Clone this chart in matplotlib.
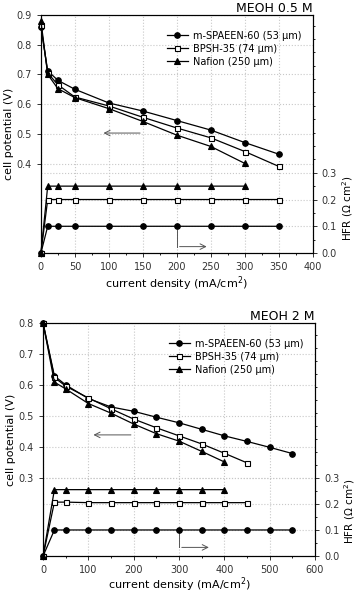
import matplotlib
matplotlib.use("Agg")
import matplotlib.pyplot as plt
from matplotlib.ticker import MultipleLocator, FormatStrFormatter

# ---- MEOH 0.5 M ----
x_05 = [0, 10, 25, 50, 100, 150, 200, 250, 300, 350]
v_spaeen_05 = [0.86, 0.712, 0.68, 0.65, 0.604, 0.577, 0.545, 0.513, 0.471, 0.432]
v_bpsh_05 = [0.865, 0.705, 0.665, 0.624, 0.594, 0.556, 0.52, 0.487, 0.441, 0.391]
x_naf_05 = [0, 10, 25, 50, 100, 150, 200, 250, 300]
v_naf_05 = [0.88, 0.70, 0.652, 0.622, 0.585, 0.542, 0.496, 0.458, 0.401]
hfr_spaeen_05 = [0, 0.1, 0.1, 0.1, 0.1, 0.1, 0.1, 0.1, 0.1, 0.1]
hfr_bpsh_05 = [0, 0.2, 0.2, 0.2, 0.2, 0.2, 0.2, 0.2, 0.2, 0.2]
hfr_naf_05 = [0, 0.25, 0.25, 0.25, 0.25, 0.25, 0.25, 0.25, 0.25]

# ---- MEOH 2 M ----
x_2 = [0, 25, 50, 100, 150, 200, 250, 300, 350, 400, 450, 500, 550]
v_spaeen_2 = [0.80, 0.63, 0.601, 0.557, 0.53, 0.516, 0.497, 0.479, 0.458, 0.437, 0.419, 0.40, 0.38]
x_bpsh_2 = [0, 25, 50, 100, 150, 200, 250, 300, 350, 400, 450]
v_bpsh_2 = [0.80, 0.625, 0.597, 0.559, 0.524, 0.491, 0.463, 0.437, 0.411, 0.381, 0.35]
x_naf_2 = [0, 25, 50, 100, 150, 200, 250, 300, 350, 400]
v_naf_2 = [0.80, 0.61, 0.588, 0.541, 0.51, 0.475, 0.444, 0.42, 0.387, 0.353]
hfr_spaeen_2 = [0, 0.1, 0.1, 0.1, 0.1, 0.1, 0.1, 0.1, 0.1, 0.1, 0.1, 0.1, 0.1]
hfr_bpsh_2 = [0, 0.207, 0.207, 0.205, 0.205, 0.205, 0.205, 0.205, 0.205, 0.205, 0.205]
hfr_naf_2 = [0, 0.255, 0.255, 0.255, 0.255, 0.255, 0.255, 0.255, 0.255, 0.255]

labels = ["m-SPAEEN-60 (53 \u03bcm)", "BPSH-35 (74 \u03bcm)", "Nafion (250 \u03bcm)"]
styles = [dict(marker="o", mfc="black", ms=4), dict(marker="s", mfc="white", ms=3.6),
          dict(marker="^", mfc="black", ms=4.3)]

fig = plt.figure(figsize=(3.62, 5.94), dpi=100)
fig.patch.set_facecolor("white")


def panel(rect, title, xs, vs, hs, xlim, xmaj, xmin, vlim, vticks, hlim, left_arrow, right_arrow,
          xpad=2):
    ax = fig.add_axes(rect)
    ax2 = ax.twinx()
    for x, v, st, lab in zip(xs, vs, styles, labels):
        ax.plot(x, v, color="black", lw=0.9, mec="black", mew=0.8,
                label=lab, clip_on=False, zorder=3, **st)
    for x, h, st in zip(xs, hs, styles):
        ax2.plot(x, h, color="black", lw=0.9, mec="black", mew=0.8,
                 clip_on=False, zorder=3, **st)
    ax.set_xlim(*xlim)
    ax.set_ylim(*vlim)
    ax.xaxis.set_major_locator(MultipleLocator(xmaj))
    ax.xaxis.set_minor_locator(MultipleLocator(xmin))
    ax.set_yticks(vticks)
    ax.yaxis.set_major_formatter(FormatStrFormatter("%.1f"))
    ax2.set_yticks([0, 0.1, 0.2, 0.3])
    ax2.yaxis.set_minor_locator(MultipleLocator(0.05))
    ax2.yaxis.set_major_formatter(FormatStrFormatter("%.1f"))
    ax2.set_ylim(*hlim)
    ax.grid(True, ls=":", color="#c8c8c8", lw=0.8)
    ax2.grid(True, axis="y", ls=":", color="#c8c8c8", lw=0.8)
    for a in (ax, ax2):
        a.tick_params(labelsize=7, colors="#333333", length=3, width=0.7)
        a.tick_params(which="minor", length=1.5, width=0.6)
        for s in a.spines.values():
            s.set_linewidth(0.8)
    ax.set_ylabel("cell potential (V)", fontsize=8, labelpad=2)
    ax2.set_ylabel("HFR (\u03a9 cm$^2$)", fontsize=7.5)
    ax2.yaxis.set_label_coords(1.1, 0.19)
    ax.set_xlabel("current density (mA/cm$^2$)", fontsize=8, labelpad=xpad)
    ax.set_title(title, loc="right", fontsize=9, pad=2)
    ax.legend(loc="upper right", bbox_to_anchor=(0.99, 0.97), frameon=False, fontsize=7,
              handlelength=2.2, handletextpad=0.5, labelspacing=0.3)
    # arrows
    (x0, x1, y) = left_arrow
    ax.annotate("", xy=(x1, y), xytext=(x0, y),
                arrowprops=dict(arrowstyle="->", color="#555555", lw=0.7))
    (rx, ry0, ry1, rx1) = right_arrow
    ax2.plot([rx, rx], [ry0, ry1], color="#555555", lw=0.7)
    ax2.annotate("", xy=(rx1, ry1), xytext=(rx, ry1),
                 arrowprops=dict(arrowstyle="->", color="#555555", lw=0.7))
    return ax


panel([0.113, 0.574, 0.751, 0.401], "MEOH 0.5 M",
      [x_05, x_05, x_naf_05], [v_spaeen_05, v_bpsh_05, v_naf_05],
      [hfr_spaeen_05, hfr_bpsh_05, hfr_naf_05],
      (0, 400), 50, 25, (0.1, 0.9), [0.4, 0.5, 0.6, 0.7, 0.8, 0.9], (0, 0.89),
      (150, 88, 0.503), (200, 0.086, 0.024, 248))

panel([0.119, 0.064, 0.751, 0.392], "MEOH 2 M",
      [x_2, x_bpsh_2, x_naf_2], [v_spaeen_2, v_bpsh_2, v_naf_2],
      [hfr_spaeen_2, hfr_bpsh_2, hfr_naf_2],
      (0, 600), 100, 50, (0.05, 0.8), [0.3, 0.4, 0.5, 0.6, 0.7, 0.8], (0, 0.895),
      (200, 105, 0.44), (300, 0.095, 0.033, 372), xpad=0)

fig.savefig("out.png", dpi=100)
